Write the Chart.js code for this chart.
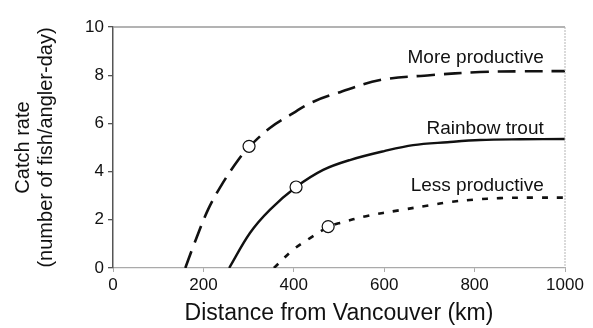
<!DOCTYPE html>
<html>
<head>
<meta charset="utf-8">
<script src="https://cdn.jsdelivr.net/npm/chart.js@4.4.1/dist/chart.umd.min.js"></script>
<style>
  html, body { margin: 0; padding: 0; background: #fff; }
  #wrap { width: 593px; height: 328px; }
</style>
</head>
<body>
<div id="wrap"><canvas id="catchChart" width="593" height="328"></canvas></div>
<script>
// values (km, fish per angler-day)
const moreX = [160, 177, 210, 243, 277, 301, 347, 392, 442, 496, 591, 701, 812, 900, 1000];
const moreY = [0, 0.87, 2.41, 3.53, 4.48, 5.02, 5.81, 6.35, 6.89, 7.26, 7.8, 8.0, 8.13, 8.16, 8.17];

const troutX = [257, 303, 347, 405, 465, 524, 600, 664, 740, 812, 900, 1000];
const troutY = [0, 1.45, 2.41, 3.36, 4.07, 4.48, 4.85, 5.1, 5.22, 5.31, 5.34, 5.35];

const lessX = [356, 398, 436, 476, 502, 560, 635, 700, 746, 800, 856, 930, 1000];
const lessY = [0, 0.75, 1.24, 1.7, 1.87, 2.15, 2.4, 2.6, 2.74, 2.84, 2.9, 2.92, 2.92];

// open circles on each curve
const markerX = [301, 405, 476];
const markerY = [5.05, 3.36, 1.72];

const xTicks = [0, 200, 400, 600, 800, 1000];
const yTicks = [0, 2, 4, 6, 8, 10];

const curveLabels = ['More productive', 'Rainbow trout', 'Less productive'];
const curveLabelY = [8.71, 5.77, 3.4];
const curveLabelX = 953;

const FONT = "'Liberation Sans', Arial, Helvetica, sans-serif";

function toPoints(xs, ys) {
    return xs.map((x, i) => ({ x: x, y: ys[i] }));
}

// grey frame on the top and right side of the plot
const framePlugin = {
    id: 'frame',
    afterDraw(chart) {
        const { ctx, chartArea } = chart;
        ctx.save();
        ctx.strokeStyle = '#9a9a9a';
        ctx.lineWidth = 1.5;
        ctx.beginPath();
        ctx.moveTo(chartArea.left, chartArea.top);
        ctx.lineTo(chartArea.right, chartArea.top);
        ctx.stroke();
        ctx.strokeStyle = '#b5b5b5';
        ctx.lineWidth = 1;
        ctx.setLineDash([2, 1]);
        ctx.beginPath();
        ctx.moveTo(chartArea.right, chartArea.top);
        ctx.lineTo(chartArea.right, chartArea.bottom);
        ctx.stroke();
        ctx.restore();
    }
};

// text labels next to the curves
const labelPlugin = {
    id: 'curveLabels',
    afterDatasetsDraw(chart) {
        const { ctx, scales } = chart;
        ctx.save();
        ctx.font = '19px ' + FONT;
        ctx.fillStyle = '#111';
        ctx.textAlign = 'right';
        ctx.textBaseline = 'middle';
        curveLabels.forEach((txt, i) => {
            ctx.fillText(txt, scales.x.getPixelForValue(curveLabelX), scales.y.getPixelForValue(curveLabelY[i]));
        });
        ctx.restore();
    }
};

const ctx = document.getElementById('catchChart').getContext('2d');
new Chart(ctx, {
    type: 'line',
    data: {
        datasets: [
            {
                label: 'markers',
                data: toPoints(markerX, markerY),
                showLine: false,
                pointRadius: 6,
                pointBackgroundColor: '#fff',
                pointBorderColor: '#111',
                pointBorderWidth: 1.2,
                order: 0
            },
            {
                label: 'More productive',
                data: toPoints(moreX, moreY),
                borderColor: '#111',
                borderWidth: 2.6,
                borderDash: [18, 9],
                pointRadius: 0,
                tension: 0.35,
                order: 1
            },
            {
                label: 'Rainbow trout',
                data: toPoints(troutX, troutY),
                borderColor: '#111',
                borderWidth: 2.4,
                pointRadius: 0,
                tension: 0.35,
                order: 1
            },
            {
                label: 'Less productive',
                data: toPoints(lessX, lessY),
                borderColor: '#111',
                borderWidth: 2.6,
                borderDash: [6, 9],
                pointRadius: 0,
                tension: 0.35,
                order: 1
            }
        ]
    },
    options: {
        responsive: false,
        animation: false,
        layout: { padding: { top: 27, right: 28, left: 0, bottom: 0 } },
        plugins: {
            legend: { display: false },
            tooltip: { enabled: false }
        },
        scales: {
            x: {
                type: 'linear',
                min: 0,
                max: 1000,
                afterFit: s => { s.height = 60; },
                afterBuildTicks: s => { s.ticks = xTicks.map(v => ({ value: v })); },
                ticks: {
                    font: { family: FONT, size: 17 }, color: '#111', padding: 3, maxRotation: 0,
                    callback: v => String(v)
                },
                grid: { drawOnChartArea: false, tickLength: 4, color: '#aaa' },
                border: { color: '#aaa', width: 1.2, dash: [3, 1] },
                title: {
                    display: true,
                    text: 'Distance from Vancouver (km)',
                    font: { family: FONT, size: 23 },
                    color: '#111',
                    padding: { top: 0, bottom: 1 }
                }
            },
            y: {
                min: 0,
                max: 10,
                afterFit: s => { s.width = 113; },
                afterBuildTicks: s => { s.ticks = yTicks.map(v => ({ value: v })); },
                ticks: { font: { family: FONT, size: 17 }, color: '#111', padding: 4, callback: v => String(v) },
                grid: { drawOnChartArea: false, tickLength: 5, color: '#555', lineWidth: 1.3 },
                border: { color: '#555', width: 1.5 },
                title: {
                    display: true,
                    text: ['Catch rate', '(number of fish/angler-day)'],
                    font: { family: FONT, size: 20, lineHeight: 1.15 },
                    color: '#111',
                    padding: { top: 12, bottom: 0 }
                }
            }
        }
    },
    plugins: [framePlugin, labelPlugin]
});
</script>
</body>
</html>
